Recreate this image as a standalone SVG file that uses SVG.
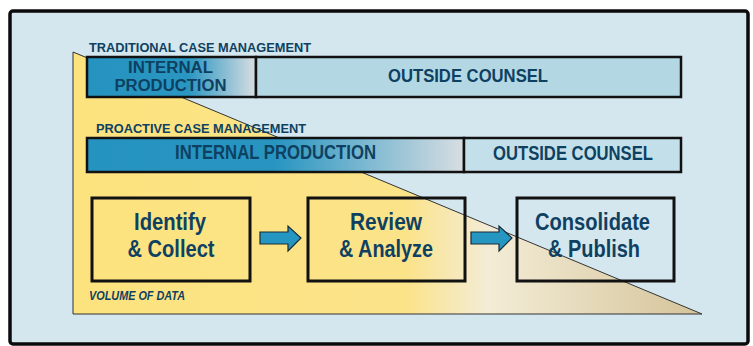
<svg xmlns="http://www.w3.org/2000/svg" width="753" height="346" viewBox="0 0 753 346">
<defs>
<linearGradient id="tri" gradientUnits="userSpaceOnUse" x1="73" y1="0" x2="702" y2="0">
<stop offset="0" stop-color="#fde37e"/>
<stop offset="0.53" stop-color="#fbe38a"/>
<stop offset="0.66" stop-color="#f3ecd6"/>
<stop offset="1" stop-color="#d5c49a"/>
</linearGradient>
<linearGradient id="ip1" gradientUnits="userSpaceOnUse" x1="87" y1="0" x2="256" y2="0">
<stop offset="0" stop-color="#2593c0"/>
<stop offset="0.6" stop-color="#2a96c1"/>
<stop offset="1" stop-color="#d8dee2"/>
</linearGradient>
<linearGradient id="ip2" gradientUnits="userSpaceOnUse" x1="87" y1="0" x2="464" y2="0">
<stop offset="0" stop-color="#2593c0"/>
<stop offset="0.5" stop-color="#2895c1"/>
<stop offset="1" stop-color="#d8dee2"/>
</linearGradient>
<style>
.t{font-family:"Liberation Sans",Arial,sans-serif;font-weight:bold;fill:#0e4161}
.bar{stroke:#111;stroke-width:2.5}
.box{fill:none;stroke:#111;stroke-width:3}
.arr{fill:#2596c2;stroke:#1a2a33;stroke-width:1.2}
</style>
</defs>
<rect x="10" y="11" width="738" height="333" rx="3" fill="#d4e6ee" stroke="#0b0b0b" stroke-width="3.5"/>
<g id="volume">
<polygon points="73,52 702,314 73,314" fill="url(#tri)" stroke="#333" stroke-width="1"/>
<text class="t" x="89" y="300" font-size="12" font-style="italic" textLength="96" lengthAdjust="spacingAndGlyphs">VOLUME OF DATA</text>
</g>
<g id="traditional">
<text class="t" x="89" y="52" font-size="13.5" textLength="222" lengthAdjust="spacingAndGlyphs">TRADITIONAL CASE MANAGEMENT</text>
<rect class="bar" x="87" y="57" width="169" height="40" fill="url(#ip1)"/>
<rect class="bar" x="256" y="57" width="425" height="40" fill="#b3d8e4"/>
<text class="t" x="170.5" y="72.5" font-size="16" text-anchor="middle" textLength="85" lengthAdjust="spacingAndGlyphs">INTERNAL</text>
<text class="t" x="170.5" y="90.5" font-size="16" text-anchor="middle" textLength="112" lengthAdjust="spacingAndGlyphs">PRODUCTION</text>
<text class="t" x="468" y="82" font-size="19" text-anchor="middle" textLength="160" lengthAdjust="spacingAndGlyphs">OUTSIDE COUNSEL</text>
</g>
<g id="proactive">
<text class="t" x="96" y="133" font-size="13.5" textLength="210" lengthAdjust="spacingAndGlyphs">PROACTIVE CASE MANAGEMENT</text>
<rect class="bar" x="87" y="138" width="377" height="34" fill="url(#ip2)"/>
<rect class="bar" x="464" y="138" width="217" height="34" fill="#c3e0ea"/>
<text class="t" x="275.5" y="159" font-size="20" text-anchor="middle" textLength="201" lengthAdjust="spacingAndGlyphs">INTERNAL PRODUCTION</text>
<text class="t" x="573" y="160" font-size="20" text-anchor="middle" textLength="160" lengthAdjust="spacingAndGlyphs">OUTSIDE COUNSEL</text>
</g>
<g id="identify">
<rect class="box" x="92" y="198" width="158" height="83"/>
<text class="t" x="170" y="230" font-size="23" text-anchor="middle" textLength="72" lengthAdjust="spacingAndGlyphs">Identify</text>
<text class="t" x="171" y="257" font-size="23" text-anchor="middle" textLength="87" lengthAdjust="spacingAndGlyphs">&amp; Collect</text>
</g>
<g id="review">
<rect class="box" x="308" y="198" width="157" height="83"/>
<text class="t" x="386" y="230" font-size="23" text-anchor="middle" textLength="72" lengthAdjust="spacingAndGlyphs">Review</text>
<text class="t" x="386" y="257" font-size="23" text-anchor="middle" textLength="94" lengthAdjust="spacingAndGlyphs">&amp; Analyze</text>
</g>
<g id="consolidate">
<rect class="box" x="517" y="198" width="157" height="83"/>
<text class="t" x="592.5" y="230" font-size="23" text-anchor="middle" textLength="115" lengthAdjust="spacingAndGlyphs">Consolidate</text>
<text class="t" x="594" y="257" font-size="23" text-anchor="middle" textLength="92" lengthAdjust="spacingAndGlyphs">&amp; Publish</text>
</g>
<g id="connectors">
<polygon class="arr" points="260,232 288,232 288,226 301,238 288,251 288,244 260,244"/>
<polygon class="arr" points="471,232 499,232 499,226 512,238 499,251 499,244 471,244"/>
</g>
</svg>
